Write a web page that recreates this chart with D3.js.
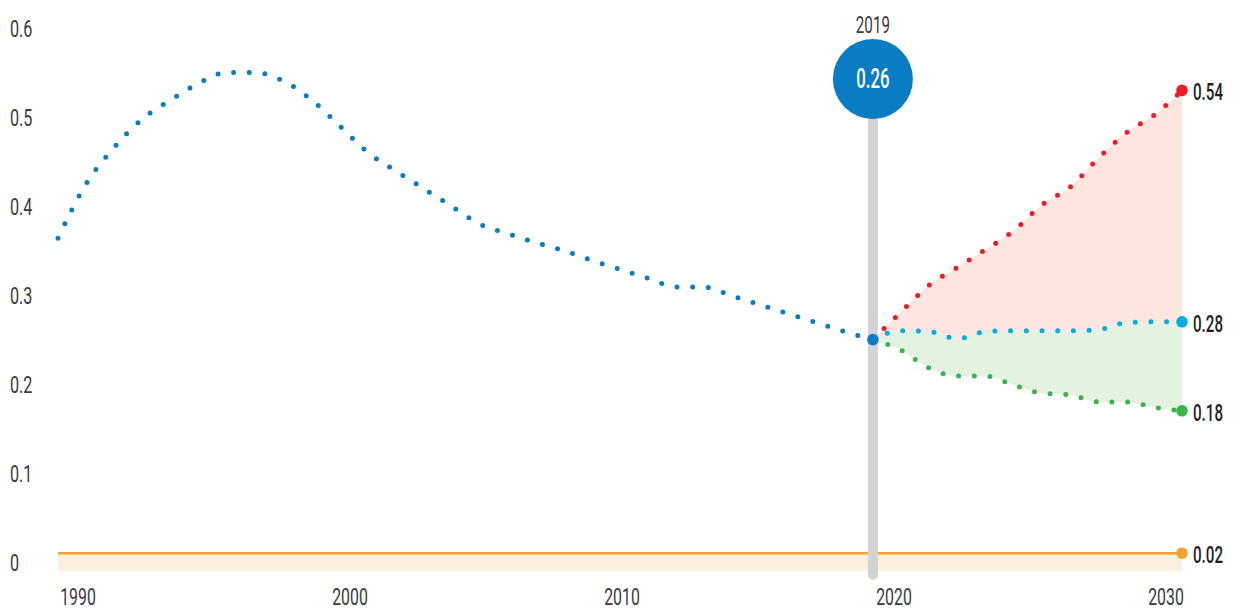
<!DOCTYPE html>
<html><head><meta charset="utf-8">
<script src="https://cdn.jsdelivr.net/npm/d3@7"></script>
<style>html,body{margin:0;padding:0;background:#fff;}svg{display:block;}</style>
</head><body>
<svg id="chart" width="1236" height="611"></svg>
<script>
// ---- data ----
const histYears = d3.range(1990, 2020);
const histValues = [0.374,0.435,0.476,0.508,0.529,0.548,0.560,0.560,0.551,0.530,
                    0.501,0.471,0.450,0.430,0.410,0.390,0.379,0.369,0.360,0.349,
                    0.339,0.329,0.319,0.319,0.309,0.299,0.289,0.279,0.269,0.26];
const projYears = d3.range(2019, 2031);
const highValues = [0.26,0.291,0.321,0.341,0.361,0.382,0.411,0.431,0.463,0.492,0.512,0.54];
const midValues  = [0.26,0.270,0.269,0.261,0.269,0.270,0.270,0.270,0.271,0.279,0.280,0.28];
const lowValues  = [0.26,0.248,0.228,0.219,0.219,0.209,0.200,0.198,0.190,0.190,0.184,0.18];
const floorYears = [1990, 2030];
const floorValues = [0.02, 0.02];
const yTickValues = [0, 0.1, 0.2, 0.3, 0.4, 0.5, 0.6];
const yTickLabels = ["0", "0.1", "0.2", "0.3", "0.4", "0.5", "0.6"];
const xTickLabels = ["1990", "2000", "2010", "2020", "2030"];
const markerYear = 2019;
const markerValue = 0.26;
const endLabels = [
  {value: 0.54, label: "0.54", color: "#ed1c24"},
  {value: 0.28, label: "0.28", color: "#00aee2"},
  {value: 0.18, label: "0.18", color: "#39b54a"},
  {value: 0.02, label: "0.02", color: "#f7a032"}
];

// ---- scales ----
const x = d3.scaleLinear().domain([1990, 2030]).range([58, 1182]);
const y = d3.scaleLinear().domain([0, 0.6]).range([571, 37]);
const xLab = d3.scalePoint().domain(xTickLabels).range([78, 1166]);

const svg = d3.select("#chart");
const FONT = "Roboto, 'Noto Sans', sans-serif";

function condText(g, tx, ty, str, opts) {
  return g.append("text")
    .attr("transform", `translate(${tx},${ty}) scale(${opts.sx || 0.66},1)`)
    .attr("text-anchor", opts.anchor || "start")
    .attr("font-family", FONT)
    .attr("font-size", opts.size || 24.5)
    .attr("font-weight", opts.weight || 400)
    .attr("fill", opts.fill || "#3b3b3b")
    .text(str);
}

const hist = histYears.map((yr, i) => ({x: yr, v: histValues[i]}));
const proj = projYears.map((yr, i) => ({x: yr, hi: highValues[i], mid: midValues[i], lo: lowValues[i]}));
const floor = floorYears.map((yr, i) => ({x: yr, v: floorValues[i]}));

const curve = d3.curveMonotoneX;

// fills
svg.append("path").datum(proj)
  .attr("d", d3.area().curve(curve).x(d => x(d.x)).y0(d => y(d.mid)).y1(d => y(d.hi)))
  .attr("fill", "#fce6df");
svg.append("path").datum(proj)
  .attr("d", d3.area().curve(curve).x(d => x(d.x)).y0(d => y(d.lo)).y1(d => y(d.mid)))
  .attr("fill", "#e4f2e1");
svg.append("path").datum(floor)
  .attr("d", d3.area().x(d => x(d.x)).y0(y(0)).y1(d => y(d.v)))
  .attr("fill", "#fdf0e1");
svg.append("path").datum(floor)
  .attr("d", d3.line().x(d => x(d.x)).y(d => y(d.v)))
  .attr("fill", "none").attr("stroke", "#f7a032").attr("stroke-width", 2.6);

// y tick labels
yTickValues.forEach((v, i) => condText(svg, 10, y(v), yTickLabels[i], {}));
// x tick labels
xTickLabels.forEach(t => condText(svg, xLab(t), 605, t, {anchor: "middle", size: 24}));

// gray marker bar
svg.append("line")
  .attr("x1", x(markerYear)).attr("x2", x(markerYear))
  .attr("y1", 100).attr("y2", 575)
  .attr("stroke", "#d1d3d5").attr("stroke-width", 10).attr("stroke-linecap", "round");

// dotted lines
function dotted(data, acc, color) {
  svg.append("path").datum(data)
    .attr("d", d3.line().curve(curve).x(d => x(d.x)).y(d => y(acc(d))))
    .attr("fill", "none").attr("stroke", color).attr("stroke-width", 5)
    .attr("stroke-linecap", "round").attr("stroke-dasharray", "0,15.7");
}
dotted(proj, d => d.hi, "#ed1c24");
dotted(proj, d => d.lo, "#39b54a");
dotted(proj, d => d.mid, "#00aee2");
dotted(hist, d => d.v, "#0a7cc3");

// end dots and labels
endLabels.forEach(e => {
  svg.append("circle").attr("cx", x(2030)).attr("cy", y(e.value)).attr("r", 5.8).attr("fill", e.color);
  condText(svg, x(2030) + 11, y(e.value) + 10, e.label, {weight: 500, fill: "#231f20", size: 23});
});

// marker point
svg.append("circle").attr("cx", x(markerYear)).attr("cy", y(markerValue)).attr("r", 5.8).attr("fill", "#0a7cc3");

// bubble
svg.append("circle").attr("cx", x(markerYear)).attr("cy", 79).attr("r", 40).attr("fill", "#0a7cc3");
condText(svg, x(markerYear), 88, String(markerValue), {anchor: "middle", fill: "#ffffff", size: 27, weight: 500, sx: 0.62});
condText(svg, x(markerYear), 33, String(markerYear), {anchor: "middle", size: 23});
</script>
</body></html>
